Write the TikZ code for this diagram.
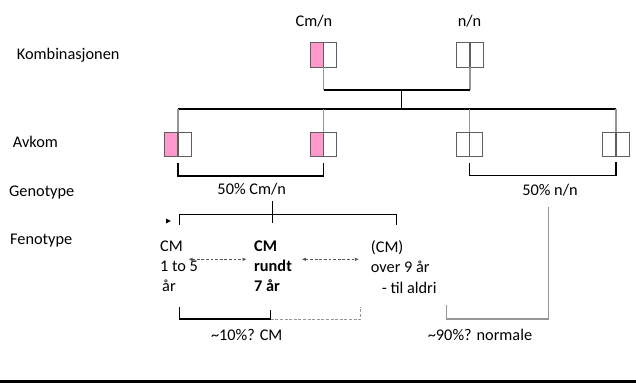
\documentclass[tikz,border=0pt]{standalone}
\usepackage{fontspec}
\setmainfont{Carlito}
\usetikzlibrary{arrows.meta}
\definecolor{cmpink}{RGB}{255,153,204}
\definecolor{boxline}{RGB}{95,95,95}
\definecolor{stubline}{RGB}{150,150,150}
\definecolor{dashline}{RGB}{85,85,85}

\begin{document}
\begin{tikzpicture}[x=1pt,y=-1pt,
  font=\fontsize{16.3}{20.3}\selectfont,
  allele/.style={draw=boxline, line width=0.9pt, minimum width=26.5pt,
    minimum height=24.5pt, inner sep=0pt, outer sep=0pt,
    path picture={\draw[boxline, line width=1.8pt]
      (path picture bounding box.south) -- (path picture bounding box.north);}},
  carrier/.style={allele, path picture={
      \fill[cmpink] (path picture bounding box.south west) rectangle (path picture bounding box.north);
      \draw[boxline, line width=1.8pt]
      (path picture bounding box.south) -- (path picture bounding box.north);}},
  lbl/.style={inner sep=0pt, anchor=base west},
  ctr/.style={inner sep=0pt, anchor=base},
  multi/.style={inner sep=0pt, anchor=north west, align=left},
  bar/.style={line width=1.2pt, black},
  stub/.style={line width=1.1pt, stubline},
  phen/.style={dashed, dash pattern=on 2.8pt off 1.8pt, line width=0.8pt, dashline,
    {Latex[length=4.2pt,width=3.6pt]}-{Latex[length=4.2pt,width=3.6pt]}},
  softdash/.style={dashed, dash pattern=on 3pt off 1.6pt, line width=0.9pt, stubline}
]
\useasboundingbox (0,0) rectangle (636,383);

% row labels
\node[lbl] (lkomb) at (16.7,59) {Kombinasjonen};
\node[lbl] (lavkom) at (12.7,147.7) {Avkom};
\node[lbl] (lgeno) at (9,196.7) {Genotype};
\node[lbl] (lfeno) at (10,244) {Fenotype};

% parents
\node[ctr] (tcm) at (314,26.7) {Cm/n};
\node[ctr] (tnn) at (469.5,26.7) {n/n};
\node[carrier] (p1) at (323.5,55) {};
\node[allele] (p2) at (470,55) {};

\coordinate (j1) at (323.5,90);
\coordinate (j2) at (470,90);
\coordinate (jm) at (401.7,90);
\coordinate (jb) at (401.7,109);
\draw[stub] (p1.south) -- (j1);
\draw[stub] (p2.south) -- (j2);
\draw[bar] (j1) -- (j2);
\draw[bar] (jm) -- (jb);

% offspring
\node[carrier] (c1) at (178,144.5) {};
\node[carrier] (c2) at (323.5,144.5) {};
\node[allele] (c3) at (469.5,144.5) {};
\node[allele] (c4) at (616,144.5) {};
\draw[bar] (c1.north |- jb) -- (c4.north |- jb);
\foreach \c in {c1,c2,c3,c4}
  \draw[stub] (\c.north |- jb) -- (\c.north);

% genotype brackets
\draw[bar] (c1.south) ++(0,6) |- (323.5,176) -- (c2.south |- 0,163);
\draw[bar] (c3.south) ++(0,6) |- (616,175.5) -- (c4.south |- 0,162);
\node[ctr] (g1) at (251.7,194.5) {50\% Cm/n};
\node[ctr] (g2) at (550,195) {50\% n/n};

% phenotype fork
\coordinate (fs) at (272.7,201);
\coordinate (fe) at (272.7,223);
\draw[bar] (fs) -- (fe);
\coordinate (fl) at (179.3,214.3);
\coordinate (fr) at (396.7,214.3);
\draw[bar] (fl |- 0,225) -- (fl) -- (fr) -- (fr |- 0,225);
\fill (166,218.6) -- (170.8,221) -- (166,223.4) -- cycle;

% phenotypes
\node[multi] (f1) at (160,240.5) {CM\\1 to 5\\\hspace{2pt}år};
\node[multi, font=\fontsize{16.3}{20.3}\selectfont\bfseries] (f2) at (254,240.5) {CM\\rundt\\7 år};
\node[multi] (f3) at (370.7,240.5) {(CM)\\over 9 år\\\hspace{11pt}- til aldri};

\draw[phen] (188.3,259.3) -- (246.7,259.3);
\draw[phen] (301.7,259.3) -- (359,259.3);

% outcome brackets
\coordinate (b1) at (179.3,307);
\coordinate (b2) at (270.7,319);
\coordinate (b3) at (360.7,307);
\draw[bar] (b1) |- (b2) -- (270.7,310);
\draw[softdash] (b2) -- (b3 |- b2) -- (b3);
\node[ctr] (o1) at (246.7,340) {\textasciitilde10\%? CM};

\coordinate (n1) at (548.3,206.7);
\coordinate (n2) at (446.7,305);
\draw[stub, line width=1.2pt] (n1) |- (446.7,319) -- (n2);
\node[ctr] (o2) at (480,340) {\textasciitilde90\%? normale};

% footer rule
\fill[black] (0,379.5) rectangle (636,383);
\end{tikzpicture}
\end{document}
